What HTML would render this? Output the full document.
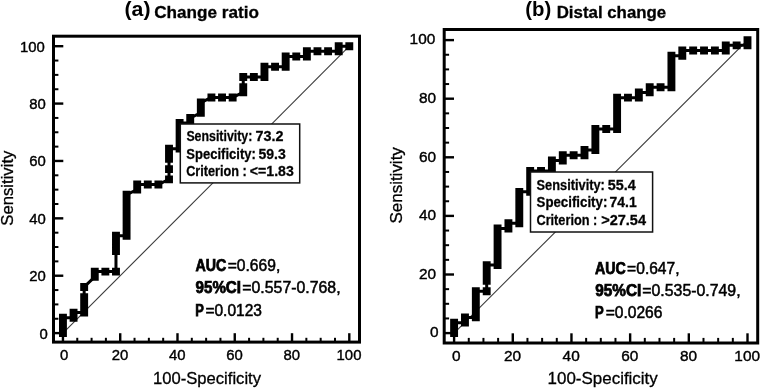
<!DOCTYPE html>
<html><head><meta charset="utf-8"><style>
html,body{margin:0;padding:0;background:#fff;}
svg{display:block;filter:grayscale(1) blur(0.3px);}
text{font-family:"Liberation Sans",sans-serif;fill:#000;}
.tl{font-size:15.4px;stroke:#000;stroke-width:0.4px;}
</style></head><body>
<svg width="761" height="390" viewBox="0 0 761 390">
<rect width="761" height="390" fill="#fff"/>
<line x1="62.95" y1="333.10" x2="349.30" y2="46.20" stroke="#3a3a3a" stroke-width="1.1"/>
<polyline points="62.95,333.10 62.95,327.98 62.95,322.85 62.95,317.73 73.56,317.73 73.56,312.61 84.16,312.61 84.16,307.48 84.16,302.36 84.16,297.24 84.16,286.99 94.77,276.74 94.77,271.62 105.37,271.62 115.98,271.62 115.98,251.13 115.98,246.01 115.98,240.88 115.98,235.76 126.58,235.76 126.58,230.64 126.58,225.51 126.58,220.39 126.58,215.27 126.58,210.14 126.58,205.02 126.58,199.90 126.58,194.77 137.19,189.65 137.19,184.53 147.79,184.53 158.40,184.53 169.01,179.40 169.01,169.16 169.01,158.91 169.01,153.79 169.01,148.66 179.61,148.66 179.61,143.54 179.61,138.42 179.61,133.29 179.61,128.17 179.61,123.05 190.22,123.05 190.22,117.93 200.82,112.80 200.82,107.68 200.82,102.56 211.43,97.43 222.03,97.43 232.64,97.43 243.24,92.31 243.24,87.19 243.24,76.94 253.85,76.94 264.46,76.94 264.46,71.82 264.46,66.69 275.06,66.69 285.67,66.69 285.67,61.57 285.67,56.45 296.27,56.45 306.88,56.45 306.88,51.32 317.48,51.32 328.09,51.32 338.69,51.32 338.69,46.20 349.30,46.20" fill="none" stroke="#000" stroke-width="3.0"/>
<path d="M59.00 329.15h7.9v7.9h-7.9zM59.00 324.03h7.9v7.9h-7.9zM59.00 318.90h7.9v7.9h-7.9zM59.00 313.78h7.9v7.9h-7.9zM69.61 313.78h7.9v7.9h-7.9zM69.61 308.66h7.9v7.9h-7.9zM80.21 308.66h7.9v7.9h-7.9zM80.21 303.53h7.9v7.9h-7.9zM80.21 298.41h7.9v7.9h-7.9zM80.21 293.29h7.9v7.9h-7.9zM80.21 283.04h7.9v7.9h-7.9zM90.82 272.79h7.9v7.9h-7.9zM90.82 267.67h7.9v7.9h-7.9zM101.42 267.67h7.9v7.9h-7.9zM112.03 267.67h7.9v7.9h-7.9zM112.03 247.18h7.9v7.9h-7.9zM112.03 242.06h7.9v7.9h-7.9zM112.03 236.93h7.9v7.9h-7.9zM112.03 231.81h7.9v7.9h-7.9zM122.63 231.81h7.9v7.9h-7.9zM122.63 226.69h7.9v7.9h-7.9zM122.63 221.56h7.9v7.9h-7.9zM122.63 216.44h7.9v7.9h-7.9zM122.63 211.32h7.9v7.9h-7.9zM122.63 206.19h7.9v7.9h-7.9zM122.63 201.07h7.9v7.9h-7.9zM122.63 195.95h7.9v7.9h-7.9zM122.63 190.82h7.9v7.9h-7.9zM133.24 185.70h7.9v7.9h-7.9zM133.24 180.58h7.9v7.9h-7.9zM143.84 180.58h7.9v7.9h-7.9zM154.45 180.58h7.9v7.9h-7.9zM165.06 175.45h7.9v7.9h-7.9zM165.06 165.21h7.9v7.9h-7.9zM165.06 154.96h7.9v7.9h-7.9zM165.06 149.84h7.9v7.9h-7.9zM165.06 144.71h7.9v7.9h-7.9zM175.66 144.71h7.9v7.9h-7.9zM175.66 139.59h7.9v7.9h-7.9zM175.66 134.47h7.9v7.9h-7.9zM175.66 129.34h7.9v7.9h-7.9zM175.66 124.22h7.9v7.9h-7.9zM175.66 119.10h7.9v7.9h-7.9zM186.27 119.10h7.9v7.9h-7.9zM186.27 113.98h7.9v7.9h-7.9zM196.87 108.85h7.9v7.9h-7.9zM196.87 103.73h7.9v7.9h-7.9zM196.87 98.61h7.9v7.9h-7.9zM207.48 93.48h7.9v7.9h-7.9zM218.08 93.48h7.9v7.9h-7.9zM228.69 93.48h7.9v7.9h-7.9zM239.29 88.36h7.9v7.9h-7.9zM239.29 83.24h7.9v7.9h-7.9zM239.29 72.99h7.9v7.9h-7.9zM249.90 72.99h7.9v7.9h-7.9zM260.51 72.99h7.9v7.9h-7.9zM260.51 67.87h7.9v7.9h-7.9zM260.51 62.74h7.9v7.9h-7.9zM271.11 62.74h7.9v7.9h-7.9zM281.72 62.74h7.9v7.9h-7.9zM281.72 57.62h7.9v7.9h-7.9zM281.72 52.50h7.9v7.9h-7.9zM292.32 52.50h7.9v7.9h-7.9zM302.93 52.50h7.9v7.9h-7.9zM302.93 47.37h7.9v7.9h-7.9zM313.53 47.37h7.9v7.9h-7.9zM324.14 47.37h7.9v7.9h-7.9zM334.74 47.37h7.9v7.9h-7.9zM334.74 42.25h7.9v7.9h-7.9zM345.35 42.25h7.9v7.9h-7.9z" fill="#000"/>
<line x1="53.50" y1="333.10" x2="63.30" y2="333.10" stroke="#000" stroke-width="2.4"/>
<line x1="62.95" y1="342.10" x2="62.95" y2="333.20" stroke="#000" stroke-width="2.4"/>
<line x1="53.50" y1="318.75" x2="58.40" y2="318.75" stroke="#000" stroke-width="2.0"/>
<line x1="77.27" y1="342.10" x2="77.27" y2="337.80" stroke="#000" stroke-width="2.0"/>
<line x1="53.50" y1="304.41" x2="58.40" y2="304.41" stroke="#000" stroke-width="2.0"/>
<line x1="91.59" y1="342.10" x2="91.59" y2="337.80" stroke="#000" stroke-width="2.0"/>
<line x1="53.50" y1="290.06" x2="58.40" y2="290.06" stroke="#000" stroke-width="2.0"/>
<line x1="105.90" y1="342.10" x2="105.90" y2="337.80" stroke="#000" stroke-width="2.0"/>
<line x1="53.50" y1="275.72" x2="63.30" y2="275.72" stroke="#000" stroke-width="2.4"/>
<line x1="120.22" y1="342.10" x2="120.22" y2="333.20" stroke="#000" stroke-width="2.4"/>
<line x1="53.50" y1="261.38" x2="58.40" y2="261.38" stroke="#000" stroke-width="2.0"/>
<line x1="134.54" y1="342.10" x2="134.54" y2="337.80" stroke="#000" stroke-width="2.0"/>
<line x1="53.50" y1="247.03" x2="58.40" y2="247.03" stroke="#000" stroke-width="2.0"/>
<line x1="148.86" y1="342.10" x2="148.86" y2="337.80" stroke="#000" stroke-width="2.0"/>
<line x1="53.50" y1="232.69" x2="58.40" y2="232.69" stroke="#000" stroke-width="2.0"/>
<line x1="163.17" y1="342.10" x2="163.17" y2="337.80" stroke="#000" stroke-width="2.0"/>
<line x1="53.50" y1="218.34" x2="63.30" y2="218.34" stroke="#000" stroke-width="2.4"/>
<line x1="177.49" y1="342.10" x2="177.49" y2="333.20" stroke="#000" stroke-width="2.4"/>
<line x1="53.50" y1="204.00" x2="58.40" y2="204.00" stroke="#000" stroke-width="2.0"/>
<line x1="191.81" y1="342.10" x2="191.81" y2="337.80" stroke="#000" stroke-width="2.0"/>
<line x1="53.50" y1="189.65" x2="58.40" y2="189.65" stroke="#000" stroke-width="2.0"/>
<line x1="206.12" y1="342.10" x2="206.12" y2="337.80" stroke="#000" stroke-width="2.0"/>
<line x1="53.50" y1="175.31" x2="58.40" y2="175.31" stroke="#000" stroke-width="2.0"/>
<line x1="220.44" y1="342.10" x2="220.44" y2="337.80" stroke="#000" stroke-width="2.0"/>
<line x1="53.50" y1="160.96" x2="63.30" y2="160.96" stroke="#000" stroke-width="2.4"/>
<line x1="234.76" y1="342.10" x2="234.76" y2="333.20" stroke="#000" stroke-width="2.4"/>
<line x1="53.50" y1="146.62" x2="58.40" y2="146.62" stroke="#000" stroke-width="2.0"/>
<line x1="249.08" y1="342.10" x2="249.08" y2="337.80" stroke="#000" stroke-width="2.0"/>
<line x1="53.50" y1="132.27" x2="58.40" y2="132.27" stroke="#000" stroke-width="2.0"/>
<line x1="263.40" y1="342.10" x2="263.40" y2="337.80" stroke="#000" stroke-width="2.0"/>
<line x1="53.50" y1="117.93" x2="58.40" y2="117.93" stroke="#000" stroke-width="2.0"/>
<line x1="277.71" y1="342.10" x2="277.71" y2="337.80" stroke="#000" stroke-width="2.0"/>
<line x1="53.50" y1="103.58" x2="63.30" y2="103.58" stroke="#000" stroke-width="2.4"/>
<line x1="292.03" y1="342.10" x2="292.03" y2="333.20" stroke="#000" stroke-width="2.4"/>
<line x1="53.50" y1="89.24" x2="58.40" y2="89.24" stroke="#000" stroke-width="2.0"/>
<line x1="306.35" y1="342.10" x2="306.35" y2="337.80" stroke="#000" stroke-width="2.0"/>
<line x1="53.50" y1="74.89" x2="58.40" y2="74.89" stroke="#000" stroke-width="2.0"/>
<line x1="320.67" y1="342.10" x2="320.67" y2="337.80" stroke="#000" stroke-width="2.0"/>
<line x1="53.50" y1="60.55" x2="58.40" y2="60.55" stroke="#000" stroke-width="2.0"/>
<line x1="334.98" y1="342.10" x2="334.98" y2="337.80" stroke="#000" stroke-width="2.0"/>
<line x1="53.50" y1="46.20" x2="63.30" y2="46.20" stroke="#000" stroke-width="2.4"/>
<line x1="349.30" y1="342.10" x2="349.30" y2="333.20" stroke="#000" stroke-width="2.4"/>
<rect x="53.50" y="36.20" width="306.00" height="305.90" fill="none" stroke="#000" stroke-width="3"/>
<rect x="180.30" y="124.00" width="119.40" height="58.90" fill="#fff" stroke="#111" stroke-width="1.5"/>
<text transform="translate(47.90,338.55) scale(0.968,1)" class="tl" text-anchor="end">0</text>
<text transform="translate(64.15,360.2) scale(0.968,1)" class="tl" text-anchor="middle">0</text>
<text transform="translate(45.90,281.17) scale(0.968,1)" class="tl" text-anchor="end">20</text>
<text transform="translate(119.92,360.2) scale(0.968,1)" class="tl" text-anchor="middle">20</text>
<text transform="translate(45.90,223.79) scale(0.968,1)" class="tl" text-anchor="end">40</text>
<text transform="translate(177.19,360.2) scale(0.968,1)" class="tl" text-anchor="middle">40</text>
<text transform="translate(45.90,166.41) scale(0.968,1)" class="tl" text-anchor="end">60</text>
<text transform="translate(234.46,360.2) scale(0.968,1)" class="tl" text-anchor="middle">60</text>
<text transform="translate(45.90,109.03) scale(0.968,1)" class="tl" text-anchor="end">80</text>
<text transform="translate(291.73,360.2) scale(0.968,1)" class="tl" text-anchor="middle">80</text>
<text transform="translate(44.80,51.65) scale(0.968,1)" class="tl" text-anchor="end">100</text>
<text transform="translate(349.00,360.2) scale(0.968,1)" class="tl" text-anchor="middle">100</text>
<text x="124.5" y="15.8" font-size="20" font-weight="bold" textLength="26" lengthAdjust="spacingAndGlyphs">(a)</text>
<text x="154.16" y="18.10" font-size="17" font-weight="bold" stroke="#000" stroke-width="0.3" textLength="104.86" lengthAdjust="spacingAndGlyphs">Change ratio</text>
<text x="153.00" y="384.10" font-size="16.4" stroke="#000" stroke-width="0.3" textLength="108.00" lengthAdjust="spacingAndGlyphs">100-Specificity</text>
<text transform="translate(12.80,0) rotate(-90)" x="-225.65" y="0" font-size="16.2" stroke="#000" stroke-width="0.3" textLength="74.98" lengthAdjust="spacingAndGlyphs">Sensitivity</text>
<text x="186.38" y="141.40" font-size="14.3" font-weight="bold" fill="#111" stroke="#111" stroke-width="0.3" textLength="65.95" lengthAdjust="spacingAndGlyphs">Sensitivity:</text>
<text x="255.44" y="141.40" font-size="14.3" font-weight="bold" fill="#111" stroke="#111" stroke-width="0.3" textLength="27.97" lengthAdjust="spacingAndGlyphs">73.2</text>
<text x="186.36" y="158.50" font-size="14.3" font-weight="bold" fill="#111" stroke="#111" stroke-width="0.3" textLength="69.43" lengthAdjust="spacingAndGlyphs">Specificity:</text>
<text x="258.43" y="158.50" font-size="14.3" font-weight="bold" fill="#111" stroke="#111" stroke-width="0.3" textLength="27.33" lengthAdjust="spacingAndGlyphs">59.3</text>
<text x="186.14" y="175.80" font-size="14.3" font-weight="bold" fill="#111" stroke="#111" stroke-width="0.3" textLength="60.62" lengthAdjust="spacingAndGlyphs">Criterion :</text>
<text x="249.85" y="175.80" font-size="14.3" font-weight="bold" fill="#111" stroke="#111" stroke-width="0.3" textLength="43.92" lengthAdjust="spacingAndGlyphs">&lt;=1.83</text>
<text x="195.42" y="271.20" font-size="15.6" font-weight="bold" stroke="#000" stroke-width="0.75" textLength="30.78" lengthAdjust="spacingAndGlyphs">AUC</text>
<text x="227.71" y="271.20" font-size="15.6" stroke="#000" stroke-width="0.5" textLength="52.54" lengthAdjust="spacingAndGlyphs">=0.669,</text>
<text x="195.55" y="293.40" font-size="15.6" font-weight="bold" stroke="#000" stroke-width="0.75" textLength="45.42" lengthAdjust="spacingAndGlyphs">95%CI</text>
<text x="242.30" y="293.40" font-size="15.6" stroke="#000" stroke-width="0.5" textLength="98.28" lengthAdjust="spacingAndGlyphs">=0.557-0.768,</text>
<text x="195.21" y="315.60" font-size="15.6" font-weight="bold" stroke="#000" stroke-width="0.75" textLength="8.56" lengthAdjust="spacingAndGlyphs">P</text>
<text x="205.41" y="315.60" font-size="15.6" stroke="#000" stroke-width="0.5" textLength="56.60" lengthAdjust="spacingAndGlyphs">=0.0123</text>
<line x1="454.10" y1="333.10" x2="747.50" y2="40.10" stroke="#3a3a3a" stroke-width="1.1"/>
<polyline points="454.10,333.10 454.10,327.87 454.10,322.64 464.97,322.64 464.97,317.40 475.83,317.40 475.83,312.17 475.83,306.94 475.83,301.71 475.83,296.48 475.83,291.24 486.70,291.24 486.70,280.78 486.70,275.55 486.70,270.31 486.70,265.08 497.57,265.08 497.57,259.85 497.57,254.62 497.57,249.39 497.57,244.15 497.57,238.92 497.57,233.69 497.57,228.46 508.43,228.46 508.43,223.23 519.30,223.23 519.30,217.99 519.30,212.76 519.30,207.53 519.30,202.30 519.30,197.06 519.30,191.83 530.17,191.83 530.17,186.60 530.17,181.37 530.17,176.14 530.17,170.90 541.03,170.90 551.90,170.90 551.90,165.67 551.90,160.44 562.77,160.44 562.77,155.21 573.63,155.21 584.50,155.21 584.50,149.98 595.37,149.98 595.37,144.74 595.37,139.51 595.37,134.28 595.37,129.05 606.23,129.05 617.10,129.05 617.10,123.81 617.10,118.58 617.10,113.35 617.10,108.12 617.10,102.89 617.10,97.65 627.97,97.65 638.83,97.65 638.83,92.42 649.70,92.42 649.70,87.19 660.57,87.19 671.43,87.19 671.43,81.96 671.43,76.73 671.43,71.49 671.43,66.26 671.43,61.03 671.43,55.80 682.30,55.80 682.30,50.56 693.17,50.56 704.03,50.56 714.90,50.56 725.77,50.56 725.77,45.33 736.63,45.33 747.50,45.33 747.50,40.10" fill="none" stroke="#000" stroke-width="3.0"/>
<path d="M450.15 329.15h7.9v7.9h-7.9zM450.15 323.92h7.9v7.9h-7.9zM450.15 318.69h7.9v7.9h-7.9zM461.02 318.69h7.9v7.9h-7.9zM461.02 313.45h7.9v7.9h-7.9zM471.88 313.45h7.9v7.9h-7.9zM471.88 308.22h7.9v7.9h-7.9zM471.88 302.99h7.9v7.9h-7.9zM471.88 297.76h7.9v7.9h-7.9zM471.88 292.53h7.9v7.9h-7.9zM471.88 287.29h7.9v7.9h-7.9zM482.75 287.29h7.9v7.9h-7.9zM482.75 276.83h7.9v7.9h-7.9zM482.75 271.60h7.9v7.9h-7.9zM482.75 266.36h7.9v7.9h-7.9zM482.75 261.13h7.9v7.9h-7.9zM493.62 261.13h7.9v7.9h-7.9zM493.62 255.90h7.9v7.9h-7.9zM493.62 250.67h7.9v7.9h-7.9zM493.62 245.44h7.9v7.9h-7.9zM493.62 240.20h7.9v7.9h-7.9zM493.62 234.97h7.9v7.9h-7.9zM493.62 229.74h7.9v7.9h-7.9zM493.62 224.51h7.9v7.9h-7.9zM504.48 224.51h7.9v7.9h-7.9zM504.48 219.28h7.9v7.9h-7.9zM515.35 219.28h7.9v7.9h-7.9zM515.35 214.04h7.9v7.9h-7.9zM515.35 208.81h7.9v7.9h-7.9zM515.35 203.58h7.9v7.9h-7.9zM515.35 198.35h7.9v7.9h-7.9zM515.35 193.11h7.9v7.9h-7.9zM515.35 187.88h7.9v7.9h-7.9zM526.22 187.88h7.9v7.9h-7.9zM526.22 182.65h7.9v7.9h-7.9zM526.22 177.42h7.9v7.9h-7.9zM526.22 172.19h7.9v7.9h-7.9zM526.22 166.95h7.9v7.9h-7.9zM537.08 166.95h7.9v7.9h-7.9zM547.95 166.95h7.9v7.9h-7.9zM547.95 161.72h7.9v7.9h-7.9zM547.95 156.49h7.9v7.9h-7.9zM558.82 156.49h7.9v7.9h-7.9zM558.82 151.26h7.9v7.9h-7.9zM569.68 151.26h7.9v7.9h-7.9zM580.55 151.26h7.9v7.9h-7.9zM580.55 146.03h7.9v7.9h-7.9zM591.42 146.03h7.9v7.9h-7.9zM591.42 140.79h7.9v7.9h-7.9zM591.42 135.56h7.9v7.9h-7.9zM591.42 130.33h7.9v7.9h-7.9zM591.42 125.10h7.9v7.9h-7.9zM602.28 125.10h7.9v7.9h-7.9zM613.15 125.10h7.9v7.9h-7.9zM613.15 119.86h7.9v7.9h-7.9zM613.15 114.63h7.9v7.9h-7.9zM613.15 109.40h7.9v7.9h-7.9zM613.15 104.17h7.9v7.9h-7.9zM613.15 98.94h7.9v7.9h-7.9zM613.15 93.70h7.9v7.9h-7.9zM624.02 93.70h7.9v7.9h-7.9zM634.88 93.70h7.9v7.9h-7.9zM634.88 88.47h7.9v7.9h-7.9zM645.75 88.47h7.9v7.9h-7.9zM645.75 83.24h7.9v7.9h-7.9zM656.62 83.24h7.9v7.9h-7.9zM667.48 83.24h7.9v7.9h-7.9zM667.48 78.01h7.9v7.9h-7.9zM667.48 72.78h7.9v7.9h-7.9zM667.48 67.54h7.9v7.9h-7.9zM667.48 62.31h7.9v7.9h-7.9zM667.48 57.08h7.9v7.9h-7.9zM667.48 51.85h7.9v7.9h-7.9zM678.35 51.85h7.9v7.9h-7.9zM678.35 46.61h7.9v7.9h-7.9zM689.22 46.61h7.9v7.9h-7.9zM700.08 46.61h7.9v7.9h-7.9zM710.95 46.61h7.9v7.9h-7.9zM721.82 46.61h7.9v7.9h-7.9zM721.82 41.38h7.9v7.9h-7.9zM732.68 41.38h7.9v7.9h-7.9zM743.55 41.38h7.9v7.9h-7.9zM743.55 36.15h7.9v7.9h-7.9z" fill="#000"/>
<line x1="444.20" y1="333.10" x2="454.00" y2="333.10" stroke="#000" stroke-width="2.4"/>
<line x1="454.10" y1="343.00" x2="454.10" y2="333.30" stroke="#000" stroke-width="2.4"/>
<line x1="444.20" y1="318.45" x2="449.10" y2="318.45" stroke="#000" stroke-width="2.0"/>
<line x1="468.77" y1="343.00" x2="468.77" y2="337.90" stroke="#000" stroke-width="2.0"/>
<line x1="444.20" y1="303.80" x2="449.10" y2="303.80" stroke="#000" stroke-width="2.0"/>
<line x1="483.44" y1="343.00" x2="483.44" y2="337.90" stroke="#000" stroke-width="2.0"/>
<line x1="444.20" y1="289.15" x2="449.10" y2="289.15" stroke="#000" stroke-width="2.0"/>
<line x1="498.11" y1="343.00" x2="498.11" y2="337.90" stroke="#000" stroke-width="2.0"/>
<line x1="444.20" y1="274.50" x2="454.00" y2="274.50" stroke="#000" stroke-width="2.4"/>
<line x1="512.78" y1="343.00" x2="512.78" y2="333.30" stroke="#000" stroke-width="2.4"/>
<line x1="444.20" y1="259.85" x2="449.10" y2="259.85" stroke="#000" stroke-width="2.0"/>
<line x1="527.45" y1="343.00" x2="527.45" y2="337.90" stroke="#000" stroke-width="2.0"/>
<line x1="444.20" y1="245.20" x2="449.10" y2="245.20" stroke="#000" stroke-width="2.0"/>
<line x1="542.12" y1="343.00" x2="542.12" y2="337.90" stroke="#000" stroke-width="2.0"/>
<line x1="444.20" y1="230.55" x2="449.10" y2="230.55" stroke="#000" stroke-width="2.0"/>
<line x1="556.79" y1="343.00" x2="556.79" y2="337.90" stroke="#000" stroke-width="2.0"/>
<line x1="444.20" y1="215.90" x2="454.00" y2="215.90" stroke="#000" stroke-width="2.4"/>
<line x1="571.46" y1="343.00" x2="571.46" y2="333.30" stroke="#000" stroke-width="2.4"/>
<line x1="444.20" y1="201.25" x2="449.10" y2="201.25" stroke="#000" stroke-width="2.0"/>
<line x1="586.13" y1="343.00" x2="586.13" y2="337.90" stroke="#000" stroke-width="2.0"/>
<line x1="444.20" y1="186.60" x2="449.10" y2="186.60" stroke="#000" stroke-width="2.0"/>
<line x1="600.80" y1="343.00" x2="600.80" y2="337.90" stroke="#000" stroke-width="2.0"/>
<line x1="444.20" y1="171.95" x2="449.10" y2="171.95" stroke="#000" stroke-width="2.0"/>
<line x1="615.47" y1="343.00" x2="615.47" y2="337.90" stroke="#000" stroke-width="2.0"/>
<line x1="444.20" y1="157.30" x2="454.00" y2="157.30" stroke="#000" stroke-width="2.4"/>
<line x1="630.14" y1="343.00" x2="630.14" y2="333.30" stroke="#000" stroke-width="2.4"/>
<line x1="444.20" y1="142.65" x2="449.10" y2="142.65" stroke="#000" stroke-width="2.0"/>
<line x1="644.81" y1="343.00" x2="644.81" y2="337.90" stroke="#000" stroke-width="2.0"/>
<line x1="444.20" y1="128.00" x2="449.10" y2="128.00" stroke="#000" stroke-width="2.0"/>
<line x1="659.48" y1="343.00" x2="659.48" y2="337.90" stroke="#000" stroke-width="2.0"/>
<line x1="444.20" y1="113.35" x2="449.10" y2="113.35" stroke="#000" stroke-width="2.0"/>
<line x1="674.15" y1="343.00" x2="674.15" y2="337.90" stroke="#000" stroke-width="2.0"/>
<line x1="444.20" y1="98.70" x2="454.00" y2="98.70" stroke="#000" stroke-width="2.4"/>
<line x1="688.82" y1="343.00" x2="688.82" y2="333.30" stroke="#000" stroke-width="2.4"/>
<line x1="444.20" y1="84.05" x2="449.10" y2="84.05" stroke="#000" stroke-width="2.0"/>
<line x1="703.49" y1="343.00" x2="703.49" y2="337.90" stroke="#000" stroke-width="2.0"/>
<line x1="444.20" y1="69.40" x2="449.10" y2="69.40" stroke="#000" stroke-width="2.0"/>
<line x1="718.16" y1="343.00" x2="718.16" y2="337.90" stroke="#000" stroke-width="2.0"/>
<line x1="444.20" y1="54.75" x2="449.10" y2="54.75" stroke="#000" stroke-width="2.0"/>
<line x1="732.83" y1="343.00" x2="732.83" y2="337.90" stroke="#000" stroke-width="2.0"/>
<line x1="444.20" y1="40.10" x2="454.00" y2="40.10" stroke="#000" stroke-width="2.4"/>
<line x1="747.50" y1="343.00" x2="747.50" y2="333.30" stroke="#000" stroke-width="2.4"/>
<rect x="444.20" y="29.50" width="313.50" height="313.50" fill="none" stroke="#000" stroke-width="3"/>
<rect x="530.50" y="172.00" width="122.10" height="60.00" fill="#fff" stroke="#111" stroke-width="1.5"/>
<text transform="translate(438.60,337.40) scale(1.0,1)" class="tl" text-anchor="end">0</text>
<text transform="translate(456.40,360.8) scale(1.0,1)" class="tl" text-anchor="middle">0</text>
<text transform="translate(436.00,278.80) scale(1.0,1)" class="tl" text-anchor="end">20</text>
<text transform="translate(512.48,360.8) scale(1.0,1)" class="tl" text-anchor="middle">20</text>
<text transform="translate(436.00,220.20) scale(1.0,1)" class="tl" text-anchor="end">40</text>
<text transform="translate(571.16,360.8) scale(1.0,1)" class="tl" text-anchor="middle">40</text>
<text transform="translate(436.00,161.60) scale(1.0,1)" class="tl" text-anchor="end">60</text>
<text transform="translate(629.84,360.8) scale(1.0,1)" class="tl" text-anchor="middle">60</text>
<text transform="translate(436.00,103.00) scale(1.0,1)" class="tl" text-anchor="end">80</text>
<text transform="translate(688.52,360.8) scale(1.0,1)" class="tl" text-anchor="middle">80</text>
<text transform="translate(435.30,44.40) scale(1.0,1)" class="tl" text-anchor="end">100</text>
<text transform="translate(747.20,360.8) scale(1.0,1)" class="tl" text-anchor="middle">100</text>
<text x="525.2" y="15.8" font-size="20" font-weight="bold" textLength="26" lengthAdjust="spacingAndGlyphs">(b)</text>
<text x="556.71" y="18.10" font-size="17" font-weight="bold" stroke="#000" stroke-width="0.3" textLength="109.52" lengthAdjust="spacingAndGlyphs">Distal change</text>
<text x="547.58" y="383.70" font-size="16.4" stroke="#000" stroke-width="0.3" textLength="110.22" lengthAdjust="spacingAndGlyphs">100-Specificity</text>
<text transform="translate(402.10,0) rotate(-90)" x="-223.56" y="0" font-size="16.2" stroke="#000" stroke-width="0.3" textLength="76.39" lengthAdjust="spacingAndGlyphs">Sensitivity</text>
<text x="536.57" y="189.70" font-size="14.3" font-weight="bold" fill="#111" stroke="#111" stroke-width="0.3" textLength="68.30" lengthAdjust="spacingAndGlyphs">Sensitivity:</text>
<text x="607.72" y="189.70" font-size="14.3" font-weight="bold" fill="#111" stroke="#111" stroke-width="0.3" textLength="27.92" lengthAdjust="spacingAndGlyphs">55.4</text>
<text x="536.55" y="207.20" font-size="14.3" font-weight="bold" fill="#111" stroke="#111" stroke-width="0.3" textLength="70.76" lengthAdjust="spacingAndGlyphs">Specificity:</text>
<text x="609.56" y="207.20" font-size="14.3" font-weight="bold" fill="#111" stroke="#111" stroke-width="0.3" textLength="27.09" lengthAdjust="spacingAndGlyphs">74.1</text>
<text x="536.44" y="224.50" font-size="14.3" font-weight="bold" fill="#111" stroke="#111" stroke-width="0.3" textLength="60.83" lengthAdjust="spacingAndGlyphs">Criterion :</text>
<text x="601.23" y="224.50" font-size="14.3" font-weight="bold" fill="#111" stroke="#111" stroke-width="0.3" textLength="44.81" lengthAdjust="spacingAndGlyphs">&gt;27.54</text>
<text x="595.02" y="273.50" font-size="15.6" font-weight="bold" stroke="#000" stroke-width="0.75" textLength="30.78" lengthAdjust="spacingAndGlyphs">AUC</text>
<text x="627.11" y="273.50" font-size="15.6" stroke="#000" stroke-width="0.5" textLength="52.43" lengthAdjust="spacingAndGlyphs">=0.647,</text>
<text x="595.24" y="295.50" font-size="15.6" font-weight="bold" stroke="#000" stroke-width="0.75" textLength="46.05" lengthAdjust="spacingAndGlyphs">95%CI</text>
<text x="642.30" y="295.50" font-size="15.6" stroke="#000" stroke-width="0.5" textLength="98.28" lengthAdjust="spacingAndGlyphs">=0.535-0.749,</text>
<text x="594.90" y="318.30" font-size="15.6" font-weight="bold" stroke="#000" stroke-width="0.75" textLength="8.68" lengthAdjust="spacingAndGlyphs">P</text>
<text x="605.71" y="318.30" font-size="15.6" stroke="#000" stroke-width="0.5" textLength="56.70" lengthAdjust="spacingAndGlyphs">=0.0266</text>
</svg>
</body></html>
